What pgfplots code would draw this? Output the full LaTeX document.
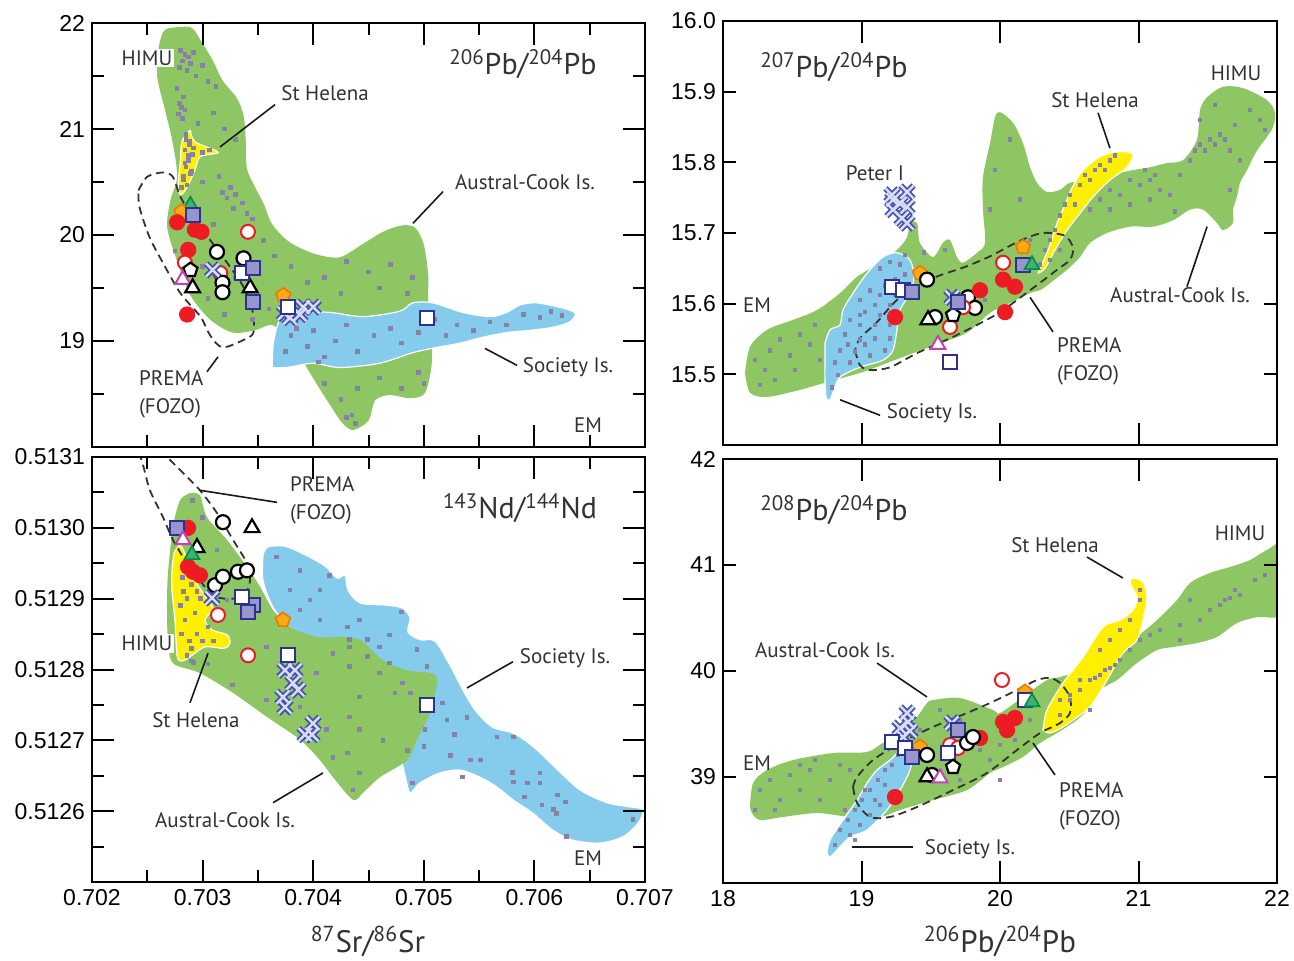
\documentclass[border=0pt]{standalone}
\usepackage{pgfplots}
\pgfplotsset{compat=1.18}
\usepackage{pgfplotstable}
\usepackage{fontspec}
\setmainfont{Liberation Sans}
\newfontfamily\lab{PT Sans}
\definecolor{rgreen}{RGB}{141,198,99}
\definecolor{rblue}{RGB}{133,203,236}
\definecolor{ryellow}{RGB}{255,240,0}
\definecolor{dotgray}{RGB}{135,130,165}
\definecolor{mred}{RGB}{237,28,36}
\definecolor{mblue}{RGB}{46,49,146}
\definecolor{mlav}{RGB}{150,150,205}
\definecolor{xblue}{RGB}{70,80,175}
\definecolor{xlight}{RGB}{215,220,245}
\definecolor{morange}{RGB}{250,170,20}
\definecolor{moredge}{RGB}{240,120,0}
\definecolor{mgreen}{RGB}{60,180,110}
\definecolor{mgredge}{RGB}{0,140,70}
\definecolor{mpurple}{RGB}{190,70,180}
\definecolor{txt}{RGB}{50,50,50}
\pgfplotsset{
  myaxis/.style={scale only axis, anchor=south west, axis on top,
    axis line style={line width=1.1pt},
    every tick/.style={line width=1pt, black},
    tick align=inside, major tick length=11pt, minor tick length=6pt,
    xtick pos=both, ytick pos=both, xticklabel pos=lower, yticklabel pos=left,
    ticklabel style={font=\fontsize{11.5}{13}\selectfont, text=black},
    /pgf/number format/assume math mode=true, clip=true},
  region/.style={draw=none, fill=#1, smooth, tension=0.5, forget plot},
  dots/.style={only marks, color=dotgray, mark=square*, mark size=0.9pt, mark options={draw=dotgray, fill=dotgray, line width=0pt}},
  prema/.style={draw=black!80, dash pattern=on 4pt off 2.5pt, line width=0.9pt, smooth, tension=0.5, mark=none},
  redf/.style={only marks, mark=*, mark size=3.8pt, mark options={fill=mred, draw=mred, line width=0.5pt}},
  redo/.style={only marks, mark=*, mark size=3.5pt, mark options={fill=white, draw=mred, line width=1pt}},
  blko/.style={only marks, mark=*, mark size=3.5pt, mark options={fill=white, draw=black, line width=1.1pt}},
  blkt/.style={only marks, mark=triangle*, mark size=4.3pt, mark options={fill=white, draw=black, line width=1.1pt}},
  blkp/.style={only marks, mark=pentagon*, mark size=3.7pt, mark options={fill=white, draw=black, line width=1.1pt}},
  bsqo/.style={only marks, mark=square*, mark size=3.5pt, mark options={fill=white, draw=mblue, line width=1pt}},
  bsqf/.style={only marks, mark=square*, mark size=3.5pt, mark options={fill=mlav, draw=mblue, line width=1pt}},
  bxa/.style={only marks, mark=x, mark size=4.6pt, mark options={draw=xblue, line width=3pt}},
  bxb/.style={only marks, mark=x, mark size=4.6pt, mark options={draw=xlight, line width=1.2pt}},
  orp/.style={only marks, mark=pentagon*, mark size=3.8pt, mark options={fill=morange, draw=moredge, line width=0.8pt}},
  grt/.style={only marks, mark=triangle*, mark size=4.3pt, mark options={fill=mgreen, draw=mgredge, line width=0.8pt}},
  purt/.style={only marks, mark=triangle*, mark size=4.3pt, mark options={fill=white, draw=mpurple, line width=1pt}},
}
\tikzset{
  lab/.style={font=\lab\fontsize{10.5}{14}\selectfont, text=txt},
  ttl/.style={font=\lab\fontsize{15}{17}\selectfont, text=txt},
  lead/.style={line width=0.8pt, black!90},
}
\pgfplotstableread{
x y
0.70309 19.67
0.70374 19.26
0.70391 19.32
0.70400 19.32
0.70388 19.25
0.70379 19.22
}\tlbx
\pgfplotstableread{
x y
0.703085 0.512901
0.703745 0.512799
0.703835 0.512799
0.703817 0.512781
0.703863 0.512771
0.703727 0.512761
0.703745 0.512747
0.703998 0.512724
0.703926 0.512708
0.703989 0.512708
}\blbx
\pgfplotstableread{
x y
19.220 15.754
19.329 15.758
19.278 15.742
19.227 15.733
19.329 15.737
19.292 15.721
19.329 15.714
19.227 15.747
19.653 15.609
}\trbx
\pgfplotstableread{
x y
19.329 39.604
19.336 39.519
19.278 39.462
19.350 39.434
19.300 39.377
19.653 39.510
}\brbx
\begin{document}
\begin{tikzpicture}
\path[use as bounding box] (0,0) rectangle (647pt,480pt);
% ================= TOP LEFT =================
\begin{axis}[myaxis, at={(46pt,256.5pt)}, width=276.5pt, height=212pt,
  xmin=0.702, xmax=0.707, ymin=18, ymax=22,
  xtick={0.702,0.703,0.704,0.705,0.706,0.707}, xticklabels={},
  minor xtick={0.7025,0.7035,0.7045,0.7055,0.7065},
  ytick={18,19,20,21,22}, yticklabels={,19,20,21,22},
  minor ytick={18.5,19.5,20.5,21.5}]
\addplot[region=rgreen] coordinates {(0.70269,21.95)(0.70289,21.96)(0.70298,21.84)(0.70309,21.65)(0.70318,21.46)(0.70331,21.29)(0.70337,21.13)(0.70339,20.90)(0.70340,20.63)(0.70348,20.44)(0.70355,20.30)(0.70363,20.10)(0.70379,19.93)(0.70402,19.82)(0.70424,19.79)(0.70444,19.91)(0.70463,20.03)(0.70480,20.09)(0.70492,20.07)(0.70500,19.91)(0.70504,19.62)(0.70504,19.39)(0.70507,19.10)(0.70507,18.77)(0.70501,18.51)(0.70488,18.46)(0.70469,18.49)(0.70456,18.44)(0.70450,18.25)(0.70436,18.16)(0.70426,18.23)(0.70415,18.40)(0.70404,18.58)(0.70393,18.77)(0.70379,19.01)(0.70363,19.15)(0.70347,19.10)(0.70327,19.08)(0.70307,19.20)(0.70289,19.43)(0.70277,19.75)(0.70268,20.07)(0.70271,20.33)(0.70277,20.55)(0.70273,20.87)(0.70266,21.18)(0.70259,21.49)(0.70260,21.75)(0.70264,21.91)(0.70269,21.95)};
\addplot[region=rblue, draw=white, line width=0.6pt] coordinates {(0.70363,18.75)(0.70364,18.98)(0.70370,19.20)(0.70385,19.27)(0.70415,19.27)(0.70445,19.23)(0.70478,19.28)(0.70490,19.36)(0.70508,19.36)(0.70535,19.27)(0.70560,19.23)(0.70575,19.27)(0.70587,19.34)(0.70602,19.36)(0.70626,19.31)(0.70637,19.26)(0.70632,19.18)(0.70617,19.13)(0.70596,19.10)(0.70575,19.08)(0.70551,19.03)(0.70533,18.98)(0.70512,18.94)(0.70490,18.89)(0.70460,18.79)(0.70424,18.75)(0.70400,18.79)(0.70376,18.75)(0.70363,18.75)};
\addplot[region=ryellow, draw=white, line width=0.6pt] coordinates {(0.70289,20.99)(0.70293,20.88)(0.70314,20.78)(0.70298,20.74)(0.70293,20.61)(0.70286,20.45)(0.70280,20.38)(0.70278,20.49)(0.70280,20.71)(0.70281,20.87)(0.70286,20.96)(0.70289,20.99)};
\addplot[dots] coordinates {(0.70280,21.74)(0.70284,21.70)(0.70287,21.68)(0.70282,21.64)(0.70289,21.62)(0.70292,21.72)(0.70279,21.58)(0.70286,21.55)(0.70294,21.50)(0.70300,21.60)(0.70305,21.45)(0.70312,21.40)(0.70277,21.38)(0.70283,21.30)(0.70279,21.24)(0.70281,21.20)(0.70284,21.18)(0.70278,21.14)(0.70282,21.10)(0.70296,21.05)(0.70310,21.15)(0.70320,21.00)(0.70330,20.90)(0.70285,20.90)(0.70288,20.85)(0.70284,20.80)(0.70291,20.76)(0.70287,20.70)(0.70285,20.64)(0.70289,20.58)(0.70283,20.52)(0.70286,20.47)(0.70300,20.50)(0.70315,20.55)(0.70325,20.45)(0.70318,20.40)(0.70330,20.38)(0.70322,20.35)(0.70336,20.30)(0.70328,20.25)(0.70340,20.20)(0.70345,20.15)(0.70310,20.10)(0.70355,19.95)(0.70365,19.80)(0.70380,19.70)(0.70395,19.55)(0.70410,19.60)(0.70430,19.75)(0.70450,19.65)(0.70470,19.72)(0.70490,19.60)(0.70460,19.50)(0.70425,19.45)(0.70485,19.45)(0.70275,19.85)(0.70300,19.70)(0.70330,19.60)(0.70305,19.40)(0.70320,19.25)(0.70345,19.20)(0.70360,19.30)(0.70380,19.05)(0.70395,18.95)(0.70400,19.10)(0.70410,18.85)(0.70420,19.00)(0.70430,19.15)(0.70440,18.90)(0.70455,19.05)(0.70470,19.12)(0.70480,18.98)(0.70495,19.08)(0.70510,19.20)(0.70520,19.05)(0.70530,19.15)(0.70545,19.10)(0.70560,19.18)(0.70575,19.15)(0.70590,19.25)(0.70605,19.22)(0.70615,19.28)(0.70625,19.24)(0.70405,18.80)(0.70385,19.12)(0.70375,18.90)(0.70410,18.60)(0.70425,18.45)(0.70435,18.30)(0.70440,18.55)(0.70460,18.65)(0.70480,18.55)(0.70495,18.70)(0.70430,18.28)(0.70438,18.22)(0.70500,18.60)(0.70285,20.95)(0.70288,20.88)(0.70292,20.82)(0.70300,20.78)(0.70287,20.75)(0.70284,20.68)(0.70290,20.60)(0.70283,20.55)(0.70281,20.45)(0.70306,20.80)};
\addplot[prema] coordinates {(0.70242,20.42)(0.70250,20.55)(0.70264,20.59)(0.70273,20.55)(0.70280,20.36)(0.70291,20.17)(0.70307,19.95)(0.70322,19.74)(0.70337,19.51)(0.70345,19.29)(0.70346,19.08)(0.70337,19.01)(0.70318,18.94)(0.70307,19.05)(0.70298,19.23)(0.70280,19.45)(0.70264,19.74)(0.70252,19.98)(0.70243,20.26)(0.70242,20.42)};
\addplot[grt] coordinates {(0.70289,20.28)};
\addplot[orp] coordinates {(0.70281,20.22)(0.70373,19.43)};
\addplot[redf] coordinates {(0.70277,20.12)(0.70293,20.05)(0.70299,20.03)(0.70287,19.86)(0.70286,19.25)};
\addplot[redo] coordinates {(0.70341,20.03)(0.70284,19.74)(0.70316,19.64)};
\addplot[blko] coordinates {(0.70313,19.84)(0.70337,19.78)(0.70318,19.55)(0.70318,19.46)};
\addplot[blkp] coordinates {(0.70289,19.67)};
\addplot[purt] coordinates {(0.70282,19.58)};
\addplot[blkt] coordinates {(0.70291,19.50)(0.70343,19.50)};
\addplot[bxa] table {\tlbx};
\addplot[bxb] table {\tlbx};
\addplot[bsqo] coordinates {(0.70336,19.64)(0.70377,19.32)(0.70503,19.22)};
\addplot[bsqf] coordinates {(0.70291,20.19)(0.70346,19.69)(0.70346,19.37)};
\node[lab, fill=white, inner sep=1pt] at (0.702497,21.67) {HIMU};
\node[lab] at (0.704107,21.34) {St Helena};
\draw[lead] (0.703157,20.83) -- (0.703655,21.23);
\node[lab] at (0.705915,20.50) {Austral-Cook Is.};
\draw[lead] (0.704902,20.11) -- (0.705174,20.41);
\node[lab] at (0.706304,18.75) {Society Is.};
\draw[lead] (0.705553,18.93) -- (0.705843,18.77);
\node[lab, anchor=west, align=left] at (0.702362,18.50) {PREMA\\(FOZO)};
\draw[lead] (0.703139,18.85) -- (0.703040,18.71);
\node[lab] at (0.706485,18.21) {EM};
\node[ttl] at (0.705897,21.61) {\textsuperscript{206}Pb/\textsuperscript{204}Pb};
\end{axis}
% ================= BOTTOM LEFT =================
\begin{axis}[myaxis, at={(46pt,39pt)}, width=276.5pt, height=212.5pt,
  xmin=0.702, xmax=0.707, ymin=0.5125, ymax=0.5131,
  xtick={0.702,0.703,0.704,0.705,0.706,0.707},
  xticklabels={0.702,0.703,0.704,0.705,0.706,0.707},
  minor xtick={0.7025,0.7035,0.7045,0.7055,0.7065},
  ytick={0.5125,0.5126,0.5127,0.5128,0.5129,0.5130,0.5131},
  yticklabels={,0.5126,0.5127,0.5128,0.5129,0.5130,0.5131},
  minor ytick={0.51255,0.51265,0.51275,0.51285,0.51295,0.51305}]
\addplot[region=rblue, draw=white, line width=0.6pt] coordinates {(0.703546,0.512962)(0.703591,0.512973)(0.703745,0.512974)(0.703926,0.512962)(0.704107,0.512946)(0.704215,0.512929)(0.704288,0.512933)(0.704315,0.512912)(0.704423,0.512894)(0.704649,0.512891)(0.704803,0.512887)(0.704875,0.512873)(0.704857,0.512853)(0.704966,0.512842)(0.705101,0.512840)(0.705237,0.512806)(0.705354,0.512771)(0.705463,0.512743)(0.705617,0.512719)(0.705825,0.512709)(0.706005,0.512689)(0.706213,0.512658)(0.706412,0.512630)(0.706656,0.512612)(0.706864,0.512606)(0.706982,0.512602)(0.706937,0.512583)(0.706801,0.512564)(0.706593,0.512555)(0.706349,0.512559)(0.706168,0.512573)(0.705987,0.512597)(0.705806,0.512616)(0.705662,0.512634)(0.705508,0.512648)(0.705327,0.512658)(0.705146,0.512654)(0.704966,0.512640)(0.704875,0.512626)(0.704830,0.512651)(0.704785,0.512677)(0.704604,0.512757)(0.704333,0.512835)(0.704034,0.512842)(0.703790,0.512859)(0.703637,0.512888)(0.703546,0.512926)(0.703546,0.512962)};
\addplot[region=rgreen] coordinates {(0.702886,0.513049)(0.702976,0.513046)(0.703040,0.513015)(0.703221,0.512983)(0.703401,0.512945)(0.703519,0.512917)(0.703637,0.512884)(0.703790,0.512860)(0.704034,0.512846)(0.704242,0.512846)(0.704423,0.512842)(0.704631,0.512813)(0.704848,0.512799)(0.705056,0.512795)(0.705119,0.512785)(0.705056,0.512739)(0.704939,0.512701)(0.704848,0.512672)(0.704604,0.512648)(0.704450,0.512626)(0.704360,0.512616)(0.704179,0.512648)(0.704061,0.512672)(0.703881,0.512701)(0.703582,0.512733)(0.703275,0.512767)(0.702976,0.512795)(0.702732,0.512809)(0.702687,0.512842)(0.702678,0.512888)(0.702687,0.512936)(0.702732,0.513001)(0.702796,0.513039)(0.702886,0.513049)};
\addplot[region=ryellow, draw=white, line width=0.6pt] coordinates {(0.702741,0.512964)(0.702796,0.512976)(0.702850,0.512960)(0.702904,0.512933)(0.703022,0.512904)(0.703094,0.512887)(0.703022,0.512870)(0.703085,0.512856)(0.703221,0.512849)(0.703248,0.512837)(0.703193,0.512830)(0.703022,0.512832)(0.702904,0.512820)(0.702814,0.512812)(0.702769,0.512820)(0.702750,0.512870)(0.702723,0.512912)(0.702723,0.512940)(0.702741,0.512964)};
\addplot[dots] coordinates {(0.70282,0.51293)(0.70286,0.51290)(0.70290,0.51292)(0.70284,0.51287)(0.70288,0.51284)(0.70293,0.51288)(0.70281,0.51285)(0.70286,0.51282)(0.70290,0.51283)(0.70295,0.51285)(0.70298,0.51290)(0.70300,0.51284)(0.70292,0.51281)(0.70285,0.51295)(0.70280,0.51289)(0.70289,0.51296)(0.70305,0.51286)(0.70283,0.51291)(0.70295,0.51291)(0.70310,0.51284)(0.70433,0.512832)(0.70449,0.512818)(0.70460,0.512795)(0.70474,0.512767)(0.70481,0.512781)(0.70488,0.512767)(0.70442,0.512761)(0.70433,0.512733)(0.70442,0.512715)(0.70431,0.512682)(0.70442,0.512654)(0.70436,0.512630)(0.70463,0.512700)(0.70485,0.512686)(0.70327,0.512778)(0.70358,0.512757)(0.70388,0.512747)(0.70412,0.512715)(0.70418,0.512676)(0.70403,0.512795)(0.70418,0.512823)(0.70433,0.512804)(0.70358,0.512832)(0.70309,0.512922)(0.70322,0.512898)(0.70291,0.513039)(0.70300,0.513015)(0.70313,0.512969)(0.70290,0.512812)(0.70305,0.512808)(0.70480,0.512881)(0.70469,0.512849)(0.70494,0.512828)(0.70503,0.512804)(0.70517,0.512753)(0.70521,0.512729)(0.70528,0.512708)(0.70539,0.512732)(0.70566,0.512705)(0.70581,0.512705)(0.70524,0.512679)(0.70542,0.512672)(0.70551,0.512672)(0.70580,0.512655)(0.70581,0.512641)(0.70594,0.512640)(0.70605,0.512654)(0.70605,0.512640)(0.70591,0.512620)(0.70621,0.512623)(0.70628,0.512613)(0.70607,0.512609)(0.70617,0.512602)(0.70620,0.512597)(0.70629,0.512564)(0.70689,0.512588)(0.70535,0.512648)(0.70490,0.512640)(0.70501,0.512715)(0.70500,0.512691)(0.70367,0.512959)(0.70388,0.512940)(0.70397,0.512898)(0.70406,0.512912)(0.70415,0.512933)(0.70388,0.512884)(0.70406,0.512870)(0.70379,0.512912)(0.70431,0.512860)(0.70433,0.512842)(0.70442,0.512870)(0.70449,0.512842)(0.70469,0.512809)(0.70460,0.512832)};
\addplot[prema] coordinates {(0.702389,0.513124)(0.702461,0.513089)(0.702524,0.513053)(0.702642,0.513015)(0.702732,0.512983)(0.702859,0.512950)(0.702976,0.512926)(0.703085,0.512905)(0.703203,0.512900)(0.703311,0.512901)(0.703392,0.512909)(0.703429,0.512926)(0.703401,0.512950)(0.703275,0.512983)(0.703130,0.513021)(0.702976,0.513053)(0.702859,0.513072)(0.702705,0.513096)(0.702524,0.513124)};
\addplot[redf] coordinates {(0.702868,0.513000)(0.702868,0.512945)(0.702976,0.512933)(0.702913,0.512938)};
\addplot[bsqf] coordinates {(0.702769,0.513000)(0.703456,0.512891)(0.703411,0.512881)};
\addplot[purt] coordinates {(0.702823,0.512983)};
\addplot[blkt] coordinates {(0.702949,0.512972)(0.703447,0.513000)};
\addplot[grt] coordinates {(0.702904,0.512962)};
\addplot[redo] coordinates {(0.703139,0.512877)(0.703411,0.512820)};
\addplot[blko] coordinates {(0.703184,0.513008)(0.703112,0.512919)(0.703184,0.512931)(0.703320,0.512938)(0.703401,0.512940)};
\addplot[orp] coordinates {(0.703727,0.512870)};
\addplot[bxa] table {\blbx};
\addplot[bxb] table {\blbx};
\addplot[bsqo] coordinates {(0.703356,0.512902)(0.703772,0.512820)(0.705029,0.512750)};
\node[ttl] at (0.705870,0.513028) {\textsuperscript{143}Nd/\textsuperscript{144}Nd};
\node[lab, anchor=west, align=left] at (0.703727,0.513039) {PREMA\\(FOZO)};
\draw[lead] (0.702976,0.513053) -- (0.703673,0.513036);
\node[lab, fill=white, inner sep=1pt] at (0.702497,0.512837) {HIMU};
\node[lab] at (0.702940,0.512729) {St Helena};
\draw[lead] (0.703049,0.512823) -- (0.702886,0.512753);
\node[lab] at (0.703203,0.512588) {Austral-Cook Is.};
\draw[lead] (0.703637,0.512612) -- (0.704089,0.512654);
\node[lab] at (0.706277,0.512816) {Society Is.};
\draw[lead] (0.705391,0.512774) -- (0.705806,0.512811);
\node[lab] at (0.706485,0.512534) {EM};
\end{axis}
% ================= TOP RIGHT =================
\begin{axis}[myaxis, at={(361.5pt,257.5pt)}, width=277pt, height=212pt,
  xmin=18, xmax=22, ymin=15.4, ymax=16.0, major tick length=6.5pt,
  xtick=\empty, extra x ticks={18,19,20,21,22}, extra x tick labels={},
  extra x tick style={major tick length=11pt},
  minor xtick={18.5,19.5,20.5,21.5},
  ytick={15.4,15.5,15.6,15.7,15.8,15.9,16.0},
  yticklabels={,15.5,15.6,15.7,15.8,15.9,16.0}]
\addplot[region=rgreen] coordinates {(18.159,15.502)(18.195,15.539)(18.318,15.563)(18.505,15.577)(18.679,15.591)(18.845,15.615)(18.968,15.638)(19.134,15.658)(19.256,15.676)(19.329,15.694)(19.350,15.714)(19.401,15.714)(19.422,15.686)(19.516,15.666)(19.588,15.686)(19.639,15.690)(19.689,15.666)(19.733,15.658)(19.834,15.672)(19.892,15.686)(19.877,15.733)(19.877,15.779)(19.928,15.827)(19.964,15.864)(20.000,15.871)(20.094,15.856)(20.166,15.827)(20.217,15.793)(20.267,15.771)(20.339,15.758)(20.433,15.761)(20.505,15.771)(20.650,15.775)(20.794,15.782)(20.960,15.789)(21.083,15.793)(21.206,15.799)(21.321,15.803)(21.422,15.832)(21.444,15.874)(21.495,15.892)(21.610,15.907)(21.755,15.905)(21.928,15.888)(21.986,15.870)(21.971,15.850)(21.928,15.836)(21.856,15.817)(21.783,15.789)(21.733,15.771)(21.711,15.751)(21.682,15.733)(21.682,15.714)(21.610,15.704)(21.567,15.714)(21.466,15.733)(21.372,15.733)(21.249,15.718)(21.105,15.709)(20.939,15.709)(20.773,15.700)(20.650,15.686)(20.578,15.666)(20.484,15.648)(20.361,15.629)(20.289,15.619)(20.217,15.615)(20.072,15.601)(19.928,15.587)(19.762,15.559)(19.567,15.544)(19.372,15.530)(19.184,15.516)(18.989,15.502)(18.751,15.489)(18.556,15.478)(18.318,15.468)(18.195,15.474)(18.159,15.502)};
\addplot[region=rblue, draw=white, line width=0.6pt] coordinates {(18.736,15.544)(18.773,15.563)(18.845,15.570)(18.866,15.591)(18.939,15.615)(19.040,15.643)(19.155,15.666)(19.256,15.672)(19.350,15.662)(19.379,15.638)(19.350,15.615)(19.278,15.591)(19.256,15.563)(19.227,15.534)(19.155,15.520)(18.989,15.510)(18.845,15.496)(18.801,15.478)(18.773,15.464)(18.744,15.467)(18.736,15.492)(18.736,15.520)(18.736,15.544)};
\addplot[region=ryellow, draw=white, line width=0.6pt] coordinates {(20.274,15.643)(20.310,15.659)(20.361,15.683)(20.412,15.714)(20.469,15.740)(20.520,15.764)(20.599,15.789)(20.722,15.808)(20.845,15.815)(20.960,15.812)(20.917,15.793)(20.794,15.775)(20.671,15.751)(20.578,15.728)(20.484,15.704)(20.397,15.676)(20.325,15.650)(20.274,15.643)};
\addplot[dots] coordinates {(19.134,15.650)(19.206,15.659)(19.278,15.655)(19.314,15.641)(19.242,15.634)(19.170,15.626)(19.061,15.619)(19.134,15.612)(19.242,15.612)(19.314,15.619)(18.989,15.605)(19.097,15.598)(19.206,15.598)(19.025,15.588)(19.134,15.584)(19.242,15.584)(18.917,15.577)(18.989,15.570)(19.097,15.570)(19.206,15.570)(18.881,15.556)(18.989,15.549)(19.097,15.551)(19.206,15.551)(18.845,15.534)(18.953,15.532)(19.061,15.527)(19.170,15.534)(18.809,15.517)(18.917,15.517)(18.830,15.499)(18.787,15.481)(18.989,15.584)(18.903,15.542)(19.025,15.542)(18.231,15.520)(18.339,15.534)(18.303,15.506)(18.412,15.549)(18.484,15.527)(18.556,15.556)(18.628,15.542)(18.375,15.492)(18.267,15.485)(18.520,15.506)(18.664,15.570)(18.700,15.520)(19.450,15.672)(19.603,15.676)(19.711,15.605)(19.892,15.605)(20.072,15.634)(19.928,15.733)(19.964,15.789)(20.072,15.832)(20.144,15.747)(20.217,15.690)(19.314,15.669)(20.650,15.733)(20.722,15.747)(20.794,15.761)(20.866,15.754)(20.939,15.775)(21.011,15.768)(21.047,15.789)(21.083,15.775)(21.119,15.782)(21.155,15.761)(21.227,15.754)(21.300,15.782)(21.372,15.803)(21.408,15.817)(21.444,15.825)(21.480,15.817)(21.516,15.832)(21.552,15.825)(21.588,15.839)(21.624,15.832)(21.661,15.817)(21.697,15.853)(21.733,15.803)(21.805,15.874)(21.877,15.860)(21.913,15.846)(21.444,15.860)(21.552,15.881)(21.263,15.730)(20.939,15.740)(20.794,15.733)(21.083,15.747)(21.661,15.761)(20.289,15.655)(20.325,15.676)(20.361,15.690)(20.397,15.704)(20.433,15.725)(20.469,15.740)(20.505,15.754)(20.578,15.768)(20.614,15.782)(20.686,15.789)(20.722,15.796)(20.794,15.803)(20.830,15.810)(20.361,15.662)(20.433,15.676)(20.541,15.740)(20.650,15.775)(20.758,15.789)};
\addplot[prema] coordinates {(18.953,15.534)(18.989,15.513)(19.061,15.506)(19.206,15.510)(19.401,15.530)(19.617,15.549)(19.805,15.567)(20.000,15.588)(20.238,15.622)(20.412,15.648)(20.505,15.662)(20.527,15.679)(20.469,15.696)(20.310,15.700)(20.144,15.689)(19.928,15.667)(19.747,15.652)(19.516,15.636)(19.278,15.609)(19.112,15.574)(18.989,15.551)(18.953,15.534)};
\addplot[bxa] table {\trbx};
\addplot[bxb] table {\trbx};
\addplot[orp] coordinates {(19.422,15.643)(20.166,15.680)};
\addplot[blko] coordinates {(19.473,15.634)(19.531,15.581)(19.769,15.609)(19.819,15.594)};
\addplot[bsqo] coordinates {(19.220,15.624)(19.300,15.619)(19.639,15.517)};
\addplot[redf] coordinates {(19.242,15.581)(19.856,15.619)(20.022,15.634)(20.108,15.624)(20.036,15.588)};
\addplot[blkt] coordinates {(19.480,15.577)};
\addplot[redo] coordinates {(19.639,15.567)(19.733,15.595)(20.022,15.658)};
\addplot[blkp] coordinates {(19.661,15.584)};
\addplot[purt] coordinates {(19.552,15.542)};
\addplot[bsqf] coordinates {(19.365,15.617)(19.697,15.602)(20.166,15.655)};
\addplot[grt] coordinates {(20.231,15.655)};
\node[ttl] at (18.801,15.935) {\textsuperscript{207}Pb/\textsuperscript{204}Pb};
\node[lab] at (19.097,15.785) {Peter I};
\node[lab] at (18.245,15.598) {EM};
\node[lab] at (19.509,15.445) {Society Is.};
\draw[lead] (18.845,15.464) -- (19.134,15.442);
\node[lab] at (20.686,15.888) {St Helena};
\draw[lead] (20.708,15.870) -- (20.794,15.820);
\node[lab] at (21.704,15.926) {HIMU};
\node[lab] at (21.300,15.612) {Austral-Cook Is.};
\draw[lead] (21.495,15.709) -- (21.350,15.624);
\node[lab, anchor=west, align=left] at (20.361,15.518) {PREMA\\(FOZO)};
\draw[lead] (20.217,15.609) -- (20.383,15.560);
\end{axis}
% ================= BOTTOM RIGHT =================
\begin{axis}[myaxis, at={(361.5pt,38.5pt)}, width=277pt, height=212pt,
  xmin=18, xmax=22, ymin=38, ymax=42, major tick length=6.5pt,
  xtick=\empty, extra x ticks={18,19,20,21,22}, extra x tick labels={18,19,20,21,22},
  extra x tick style={major tick length=11pt},
  minor xtick={18.5,19.5,20.5,21.5},
  ytick={38,39,40,41,42}, yticklabels={,39,40,41,42}]
\addplot[region=rgreen] coordinates {(18.195,38.717)(18.217,38.943)(18.318,39.066)(18.505,39.160)(18.794,39.226)(19.040,39.236)(19.155,39.321)(19.278,39.377)(19.401,39.566)(19.473,39.698)(19.516,39.726)(19.711,39.745)(19.949,39.632)(20.000,39.604)(20.166,39.755)(20.339,39.915)(20.433,39.943)(20.650,40.028)(20.845,40.151)(20.989,40.321)(21.134,40.481)(21.278,40.670)(21.372,40.830)(21.516,40.925)(21.661,40.981)(21.805,41.047)(21.928,41.142)(22.058,41.189)(22.058,40.557)(21.856,40.509)(21.711,40.453)(21.567,40.321)(21.422,40.264)(21.249,40.226)(21.134,40.198)(20.989,40.075)(20.845,39.915)(20.722,39.821)(20.650,39.660)(20.556,39.538)(20.412,39.415)(20.289,39.321)(20.166,39.189)(20.022,39.094)(19.928,39.038)(19.762,38.877)(19.516,38.783)(19.278,38.689)(19.134,38.623)(18.917,38.623)(18.679,38.660)(18.433,38.623)(18.267,38.594)(18.209,38.660)(18.195,38.717)};
\addplot[region=rblue, draw=white, line width=0.6pt] coordinates {(18.751,38.283)(18.773,38.406)(18.866,38.594)(18.968,38.783)(19.040,38.943)(19.112,39.066)(19.206,39.160)(19.278,39.255)(19.329,39.321)(19.372,39.255)(19.350,39.066)(19.278,38.877)(19.184,38.689)(19.040,38.500)(18.917,38.434)(18.823,38.311)(18.773,38.245)(18.751,38.283)};
\addplot[region=ryellow, draw=white, line width=0.6pt] coordinates {(20.310,39.443)(20.339,39.632)(20.455,39.887)(20.599,40.132)(20.744,40.415)(20.866,40.481)(20.960,40.575)(20.989,40.698)(20.939,40.830)(20.960,40.877)(21.032,40.840)(21.061,40.698)(21.032,40.481)(20.989,40.292)(20.888,40.170)(20.773,39.915)(20.671,39.698)(20.599,39.604)(20.455,39.472)(20.361,39.415)(20.310,39.443)};
\addplot[dots] coordinates {(18.809,38.358)(18.845,38.500)(18.903,38.594)(18.953,38.689)(19.004,38.783)(19.061,38.877)(19.119,38.972)(19.170,39.066)(19.220,39.113)(19.264,39.208)(18.917,38.453)(18.989,38.547)(19.061,38.642)(19.134,38.736)(19.206,38.830)(18.881,38.689)(19.025,38.877)(19.097,38.783)(18.953,38.406)(19.170,38.925)(18.267,38.877)(18.339,38.972)(18.412,38.783)(18.484,39.019)(18.556,38.877)(18.628,39.066)(18.700,38.783)(18.773,38.972)(18.845,39.113)(18.231,38.689)(18.375,38.689)(18.664,39.160)(18.917,39.066)(18.556,39.113)(19.422,39.443)(19.567,39.632)(19.711,39.538)(19.856,39.255)(19.928,39.160)(20.000,39.302)(20.108,39.349)(20.217,39.538)(20.000,38.972)(19.711,38.972)(20.433,39.726)(20.505,39.774)(20.578,39.821)(20.650,39.915)(20.686,39.934)(20.722,39.962)(20.758,40.009)(20.794,40.028)(20.830,40.057)(20.866,40.104)(20.939,40.198)(21.011,40.292)(21.083,40.340)(21.155,40.387)(21.300,40.434)(21.444,40.481)(21.516,40.575)(21.588,40.623)(21.624,40.670)(21.661,40.689)(21.697,40.764)(21.733,40.717)(21.841,40.858)(21.913,40.906)(21.300,40.292)(21.372,40.670)(20.578,39.915)(20.722,40.198)(20.794,40.292)(20.866,40.387)(20.939,40.481)(21.011,40.670)(21.011,40.764)(20.433,39.585)(20.505,39.726)(20.650,39.632)};
\addplot[prema] coordinates {(18.939,38.906)(18.968,38.755)(19.061,38.623)(19.206,38.623)(19.401,38.717)(19.661,38.877)(19.906,39.038)(20.123,39.255)(20.289,39.415)(20.433,39.509)(20.505,39.604)(20.505,39.755)(20.433,39.887)(20.361,39.934)(20.267,39.915)(20.123,39.821)(19.928,39.698)(19.762,39.604)(19.516,39.472)(19.278,39.321)(19.083,39.160)(18.968,39.000)(18.939,38.906)};
\addplot[bxa] table {\brbx};
\addplot[bxb] table {\brbx};
\addplot[redo] coordinates {(20.014,39.915)(19.639,39.302)(19.697,39.274)};
\addplot[orp] coordinates {(20.180,39.802)(19.422,39.283)};
\addplot[bsqo] coordinates {(20.180,39.726)(19.220,39.330)(19.314,39.274)(19.625,39.226)};
\addplot[grt] coordinates {(20.231,39.708)};
\addplot[redf] coordinates {(20.022,39.519)(20.108,39.557)(20.051,39.443)(19.856,39.368)(19.242,38.811)};
\addplot[bsqf] coordinates {(19.365,39.189)(19.697,39.443)};
\addplot[blko] coordinates {(19.473,39.208)(19.762,39.321)(19.805,39.377)(19.509,39.019)};
\addplot[blkp] coordinates {(19.661,39.094)};
\addplot[blkt] coordinates {(19.473,39.000)};
\addplot[purt] coordinates {(19.567,38.991)};
\node[ttl] at (18.801,41.519) {\textsuperscript{208}Pb/\textsuperscript{204}Pb};
\node[lab] at (18.736,40.198) {Austral-Cook Is.};
\draw[lead] (19.112,40.075) -- (19.473,39.755);
\node[lab] at (18.245,39.132) {EM};
\node[lab] at (19.783,38.321) {Society Is.};
\draw[lead] (18.931,38.340) -- (19.372,38.340);
\node[lab] at (20.397,41.189) {St Helena};
\draw[lead] (20.628,41.075) -- (20.888,40.877);
\node[lab] at (21.733,41.302) {HIMU};
\node[lab, anchor=west, align=left] at (20.375,38.722) {PREMA\\(FOZO)};
\draw[lead] (20.238,39.321) -- (20.397,39.019);
\end{axis}
\node[font=\lab\fontsize{15.5}{17}\selectfont, text=txt, anchor=base, inner sep=0pt] at (184pt,4pt) {\textsuperscript{87}Sr/\textsuperscript{86}Sr};
\node[font=\lab\fontsize{15.5}{17}\selectfont, text=txt, anchor=base, inner sep=0pt] at (500pt,4pt) {\textsuperscript{206}Pb/\textsuperscript{204}Pb};
\end{tikzpicture}
\end{document}
